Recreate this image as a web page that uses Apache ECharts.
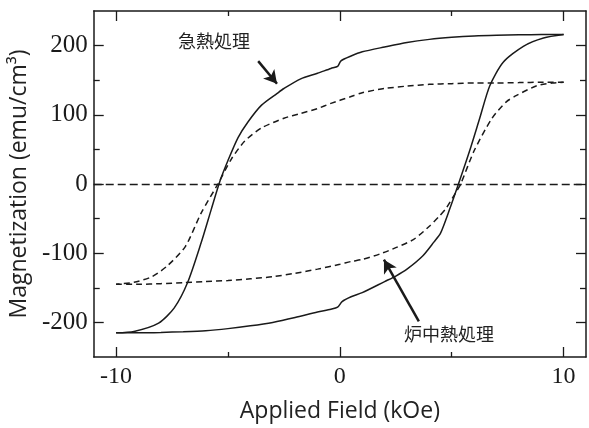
<!DOCTYPE html>
<html><head><meta charset="utf-8">
<script src="https://cdn.jsdelivr.net/npm/echarts@6/dist/echarts.min.js"></script>
<style>html,body{margin:0;padding:0;background:#fff}#c{width:589px;height:428px}</style>
</head><body><div id="c"></div>
<script>
// 急熱処理 (solid) : descending branch (H from +10 to -10)
const solidDownH = [10, 9, 8, 7, 6, 5, 4, 3, 2, 1, 0.5, 0.05, -0.1, -0.4, -1, -1.75, -2.5, -2.8, -3.5, -4.1, -4.55, -5.0, -5.35, -5.75, -6.2, -6.8, -7.4, -8.1, -9.2, -10];
const solidDownM = [216, 216, 215.5, 215, 214, 212, 209, 204.5, 198, 191, 185, 178, 170, 167, 160, 152, 138, 131, 114, 90, 67, 34, 5, -37, -85, -142, -179, -201, -213, -215];
// 急熱処理 (solid) : ascending branch (H from -10 to +10)
const solidUpH = [-10, -9, -8, -7, -6, -5, -4, -3, -2, -1, -0.4, -0.1, 0.1, 0.5, 1, 2, 2.5, 3, 3.7, 4.2, 4.5, 4.9, 5.3, 5.8, 6.25, 6.7, 7.3, 8.2, 9.1, 10];
const solidUpM = [-215, -215, -214.5, -213.5, -212, -209, -205, -200, -193, -185, -181, -178, -170, -163, -157, -141, -133, -123, -104, -84, -71, -37, 0, 48, 95, 142, 176, 199, 211, 216];
// 炉中熱処理 (dashed) : descending branch
const dashDownH = [10, 9, 8, 7, 6, 5, 4, 3, 2, 1, 0.47, -0.4, -1, -1.75, -2.5, -3.5, -4.25, -4.85, -5.45, -6.2, -6.9, -7.7, -8.4, -9.2, -10];
const dashDownM = [147, 147, 146.5, 146, 146, 145, 144, 141.5, 138, 132, 126, 116.5, 109, 102, 95, 81, 62, 36, 0, -42, -90, -118, -134, -142, -145];
// 炉中熱処理 (dashed) : ascending branch
const dashUpH = [-10, -9, -8, -7, -6, -5, -4, -3, -2, -1, 0, 0.5, 1, 1.8, 2.5, 3.3, 4.0, 4.4, 4.75, 5.15, 5.4, 6.0, 6.8, 7.45, 7.9, 8.8, 9.5, 10];
const dashUpM = [-145, -145, -144, -142.5, -141, -139.5, -137, -134, -129, -123, -116, -112, -109, -101, -92, -80, -61, -48, -35, -14, 0, 48, 95, 119, 128, 142, 146, 147];

const xRange = [-11, 11];
const yRange = [-250, 250];
const xMajorTicks = [-10, 0, 10];
const xMinorTicks = [-5, 5];
const yMajorTicks = [-200, -100, 0, 100, 200];
const yMinorTicks = [-150, -50, 50, 150];

const xTitle = 'Applied Field (kOe)';
const yTitle = 'Magnetization (emu/cm³)';
const annoTexts = ['急熱処理', '炉中熱処理'];
const annoTextAt = [[-5.63, 206.5], [4.88, -216.5]];
const annoArrows = [[[-3.65, 177.6], [-2.81, 144.9]], [[3.53, -198.4], [1.97, -109.4]]];

const zip = (a, b) => a.map((v, i) => [v, b[i]]);
const INK = '#1a1a1a';
const serif = '"Liberation Serif", "Times New Roman", serif';
const sans = '"Open Sans", "Noto Sans", sans-serif';

function xAxisDef(pos, ticks, len, main) {
  return {
    type: 'value', gridIndex: 0, position: pos, min: xRange[0], max: xRange[1],
    axisLine: { show: main, onZero: false, lineStyle: { color: INK, width: 1.5 } },
    axisTick: { show: true, inside: true, length: len, customValues: ticks, lineStyle: { color: INK, width: 1.3 } },
    axisLabel: { show: main && pos === 'bottom', customValues: xMajorTicks, margin: 8,
      fontFamily: serif, fontSize: 24, color: INK },
    splitLine: { show: false },
    name: main && pos === 'bottom' ? xTitle : '',
    nameLocation: 'middle', nameGap: 43,
    nameTextStyle: { fontFamily: sans, fontSize: 23, color: '#222' }
  };
}
function yAxisDef(pos, ticks, len, main) {
  return {
    type: 'value', gridIndex: 0, position: pos, min: yRange[0], max: yRange[1],
    axisLine: { show: main, onZero: false, lineStyle: { color: INK, width: 1.5 } },
    axisTick: { show: true, inside: true, length: len, customValues: ticks, lineStyle: { color: INK, width: 1.3 } },
    axisLabel: { show: main && pos === 'left', customValues: yMajorTicks, margin: 6,
      fontFamily: serif, fontSize: 25, color: INK },
    splitLine: { show: false },
    name: main && pos === 'left' ? yTitle : '',
    nameLocation: 'middle', nameGap: 47, nameRotate: 90,
    nameTextStyle: { fontFamily: sans, fontSize: 23, color: '#222' }
  };
}

const chart = echarts.init(document.getElementById('c'), null, { renderer: 'canvas' });
const lineBase = { type: 'line', xAxisIndex: 0, yAxisIndex: 0, showSymbol: false, symbol: 'none',
  smooth: 0.25, silent: true, animation: false };

chart.setOption({
  animation: false,
  backgroundColor: '#fff',
  grid: { left: 92, right: 3, top: 11, bottom: 65, containLabel: false },
  xAxis: [
    xAxisDef('bottom', xMajorTicks, 10, true),
    xAxisDef('bottom', xMinorTicks, 5, false),
    xAxisDef('top', xMajorTicks, 10, true),
    xAxisDef('top', xMinorTicks, 5, false)
  ],
  yAxis: [
    yAxisDef('left', yMajorTicks, 10, true),
    yAxisDef('left', yMinorTicks, 6, false),
    yAxisDef('right', yMajorTicks, 10, true),
    yAxisDef('right', yMinorTicks, 6, false)
  ],
  series: [
    Object.assign({}, lineBase, {
      name: '急熱処理 down', data: zip(solidDownH, solidDownM),
      lineStyle: { color: INK, width: 1.5 },
      markPoint: {
        silent: true, symbol: 'circle', symbolSize: 2,
        itemStyle: { color: 'rgba(0,0,0,0)' },
        label: { show: true, position: 'inside', formatter: '{b}',
          fontFamily: '"Noto Sans CJK JP", sans-serif', fontSize: 18, color: '#222' },
        data: annoTexts.map((t, i) => ({ name: t, coord: annoTextAt[i] }))
      },
      markLine: {
        silent: true, symbol: ['none', 'arrow'], symbolSize: [11, 13],
        label: { show: false },
        lineStyle: { color: INK, width: 2.5, type: 'solid' },
        data: annoArrows.map(a => [{ coord: a[0] }, { coord: a[1] }])
      }
    }),
    Object.assign({}, lineBase, {
      name: '急熱処理 up', data: zip(solidUpH, solidUpM),
      lineStyle: { color: INK, width: 1.5 }
    }),
    Object.assign({}, lineBase, {
      name: '炉中熱処理 down', data: zip(dashDownH, dashDownM),
      lineStyle: { color: INK, width: 1.5, type: [6, 4] },
      markLine: {
        silent: true, symbol: ['none', 'none'], label: { show: false },
        lineStyle: { color: INK, width: 1.4, type: [8, 4] },
        data: [{ yAxis: 0 }]
      }
    }),
    Object.assign({}, lineBase, {
      name: '炉中熱処理 up', data: zip(dashUpH, dashUpM),
      lineStyle: { color: INK, width: 1.5, type: [6, 4] }
    })
  ]
});
</script>
</body></html>
